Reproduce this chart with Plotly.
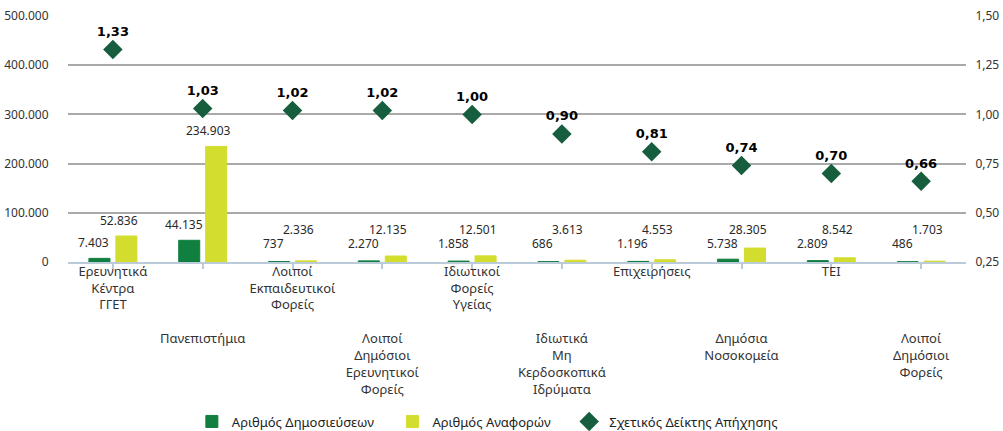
import plotly.graph_objects as go

# categories (odd ones are pushed down with blank lines, as in the original)
categories = [
    "Ερευνητικά<br>Κέντρα<br>ΓΓΕΤ",
    "<br><br><br><br>Πανεπιστήμια",
    "Λοιποί<br>Εκπαιδευτικοί<br>Φορείς",
    "<br><br><br><br>Λοιποί<br>Δημόσιοι<br>Ερευνητικοί<br>Φορείς",
    "Ιδιωτικοί<br>Φορείς<br>Υγείας",
    "<br><br><br><br>Ιδιωτικά<br>Μη<br>Κερδοσκοπικά<br>Ιδρύματα",
    "Επιχειρήσεις",
    "<br><br><br><br>Δημόσια<br>Νοσοκομεία",
    "ΤΕΙ",
    "<br><br><br><br>Λοιποί<br>Δημόσιοι<br>Φορείς",
]
publications = [7403, 44135, 737, 2270, 1858, 686, 1196, 5738, 2809, 486]
citations = [52836, 234903, 2336, 12135, 12501, 3613, 4553, 28305, 8542, 1703]
impact = [1.33, 1.03, 1.02, 1.02, 1.00, 0.90, 0.81, 0.74, 0.70, 0.66]

x = list(range(len(categories)))

GREEN = "#117f3f"
YELLOW = "#d3dd2e"
DIAMOND = "#165e3d"
PAD = "\u00a0" * 4  # extra room between legend entries

fig = go.Figure()
fig.add_bar(
    x=x, y=publications, name="Αριθμός Δημοσιεύσεων" + PAD,
    marker=dict(color=GREEN, line=dict(color=GREEN, width=1)),
)
fig.add_bar(
    x=x, y=citations, name="Αριθμός Αναφορών" + PAD,
    marker=dict(color=YELLOW, line=dict(color=YELLOW, width=1)),
)
fig.add_scatter(
    x=x, y=impact, yaxis="y2", name="Σχετικός Δείκτης Απήχησης",
    mode="markers+text",
    marker=dict(symbol="diamond", size=15, color=DIAMOND),
    text=[f"{v:.2f}".replace(".", ",") for v in impact],
    textposition="top center",
    textfont=dict(family="DejaVu Sans", size=13, color="black", weight="bold"),
    cliponaxis=False,
)

# value labels above the bars (small bars get a floor so labels don't collide)
def fmt(v):
    return f"{v:,}".replace(",", ".")

for i in x:
    fig.add_annotation(
        x=i, y=max(publications[i], 6100), text=fmt(publications[i]),
        xref="x", yref="y", yanchor="bottom", showarrow=False,
        xshift=-19, yshift=5, font=dict(size=12, color="#2a2a2a"),
    )
    fig.add_annotation(
        x=i, y=max(citations[i], 34600), text=fmt(citations[i]),
        xref="x", yref="y", yanchor="bottom", showarrow=False,
        xshift=6, yshift=5, font=dict(size=12, color="#2a2a2a"),
    )

fig.update_layout(
    width=1003, height=431,
    margin=dict(l=68, r=37, t=16, b=169),
    paper_bgcolor="white", plot_bgcolor="white",
    separators=",.",
    barmode="group", bargap=0.4, bargroupgap=0.22,
    font=dict(family="Noto Sans", size=12, color="#333333"),
    showlegend=True,
    legend=dict(
        orientation="h", x=0.467, xanchor="center",
        yref="container", y=0.022, yanchor="middle",
        font=dict(size=13, color="#222222"), itemwidth=30,
    ),
    xaxis=dict(
        tickmode="array", tickvals=x, ticktext=categories,
        range=[-0.5, len(categories) - 0.5], automargin=False,
        showline=True, linecolor="#bccbd9", linewidth=2,
        ticks="outside", tickson="boundaries", ticklen=5, tickcolor="#bccbd9",
        tickwidth=2, showgrid=False, ticklabelstandoff=-9,
        tickfont=dict(size=13, color="#333333"),
    ),
    yaxis=dict(
        range=[0, 500000], dtick=100000, tickformat=",.0f", automargin=False,
        showgrid=True, gridcolor="#a9a9a9", gridwidth=1.5, zeroline=False,
        ticks="outside", ticklen=16, tickcolor="rgba(0,0,0,0)",
        tickfont=dict(size=12, color="#333333"),
    ),
    yaxis2=dict(
        range=[0.25, 1.5], dtick=0.25, tickformat=".2f", automargin=False,
        overlaying="y", side="right", showgrid=False, zeroline=False,
        ticks="outside", ticklen=6, tickcolor="rgba(0,0,0,0)",
        tickfont=dict(size=12, color="#333333"),
    ),
)

fig.write_html(
    "out.html",
    config={"displayModeBar": False},
    post_script="document.body.style.margin='0';",
)
